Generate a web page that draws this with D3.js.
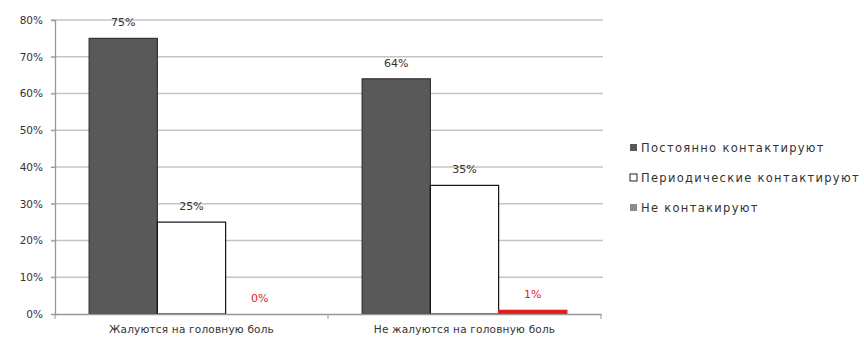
<!DOCTYPE html>
<html>
<head>
<meta charset="utf-8">
<script src="https://d3js.org/d3.v7.min.js"></script>
<style>
  body { margin: 0; background: #fff; }
  text { font-family: "DejaVu Sans", sans-serif; fill: #333; }
</style>
</head>
<body>
<script>
// данные
var categories = ["Жалуются на головную боль", "Не жалуются на головную боль"];
var seriesNames = ["Постоянно контактируют", "Периодические контактируют", "Не контакируют"];
var constant = [75, 64];
var periodic = [25, 35];
var none = [0, 1];
var yTicks = [0, 10, 20, 30, 40, 50, 60, 70, 80];

var series = [constant, periodic, none];
var barFill = ["#595959", "#ffffff", "#e31a1c"];
var barStroke = ["#333", "#111", "#e31a1c"];
var legendFill = ["#595959", "#ffffff", "#8c8c8c"];
var labelColor = ["#333", "#333", "#e31a1c"];

var W = 864, H = 340;
var mLeft = 55, mRight = 601, mTop = 20, mBottom = 314;

var svg = d3.select("body").append("svg")
    .attr("width", W).attr("height", H);

var x0 = d3.scaleBand().domain(categories).range([mLeft, mRight]);
// Excel gap width 100% -> по половине ширины столбца с каждой стороны
var x1 = d3.scaleBand().domain(d3.range(3))
    .range([x0.bandwidth() / 8, x0.bandwidth() * 7 / 8]);

var y = d3.scaleLinear().domain([0, 80]).range([mBottom, mTop]);

// сетка
svg.append("g").selectAll("line")
    .data(yTicks.filter(d => d > 0))
    .join("line")
    .attr("x1", mLeft - 4).attr("x2", mRight + 2)
    .attr("y1", d => y(d)).attr("y2", d => y(d))
    .attr("stroke", "#c4c4c4").attr("stroke-width", 1.6);

// ось Y
var yAxis = svg.append("g")
    .attr("transform", `translate(${mLeft},0)`)
    .call(d3.axisLeft(y).tickValues(yTicks).tickFormat(d => d + "%").tickSize(4).tickPadding(8));
yAxis.select(".domain").attr("stroke", "#999").attr("stroke-width", 1.3);
yAxis.selectAll(".tick line").attr("stroke", "#999");
yAxis.selectAll("text").style("font-size", "10.5px").attr("fill", "#333");

// столбцы
categories.forEach(function(cat, ci) {
  var g = svg.append("g").attr("transform", `translate(${x0(cat)},0)`);
  series.forEach(function(s, si) {
    var v = s[ci];
    g.append("rect")
      .attr("x", x1(si))
      .attr("y", y(v))
      .attr("width", x1.bandwidth())
      .attr("height", y(0) - y(v))
      .attr("fill", barFill[si])
      .attr("stroke", v > 0 ? barStroke[si] : "none")
      .attr("stroke-width", 1.2);
    g.append("text")
      .attr("x", x1(si) + x1.bandwidth() / 2)
      .attr("y", y(v) - 12)
      .attr("text-anchor", "middle")
      .style("font-size", "11px")
      .style("fill", labelColor[si])
      .text(v + "%");
  });
});

// ось X
var xAxis = svg.append("g")
    .attr("transform", `translate(0,${mBottom})`)
    .call(d3.axisBottom(x0).tickSize(0).tickPadding(12));
xAxis.select(".domain").attr("stroke", "#999").attr("stroke-width", 1.3);
xAxis.selectAll("text").style("font-size", "10.5px").style("letter-spacing", "0.2px").attr("fill", "#333");
// деления между категориями
svg.append("g").selectAll("line")
    .data(d3.range(categories.length + 1))
    .join("line")
    .attr("x1", i => mLeft + i * x0.bandwidth())
    .attr("x2", i => mLeft + i * x0.bandwidth())
    .attr("y1", mBottom).attr("y2", mBottom + 5)
    .attr("stroke", "#999");

// легенда
var legend = svg.append("g").attr("transform", "translate(630,148)");
seriesNames.forEach(function(name, i) {
  var row = legend.append("g").attr("transform", `translate(0,${i * 30})`);
  row.append("rect")
    .attr("x", 0).attr("y", -4)
    .attr("width", 7).attr("height", 7)
    .attr("fill", legendFill[i])
    .attr("stroke", i === 1 ? "#222" : "none");
  row.append("text")
    .attr("x", 11).attr("y", 4)
    .style("font-size", "11.5px")
    .style("letter-spacing", "1.3px")
    .text(name);
});
</script>
</body>
</html>
